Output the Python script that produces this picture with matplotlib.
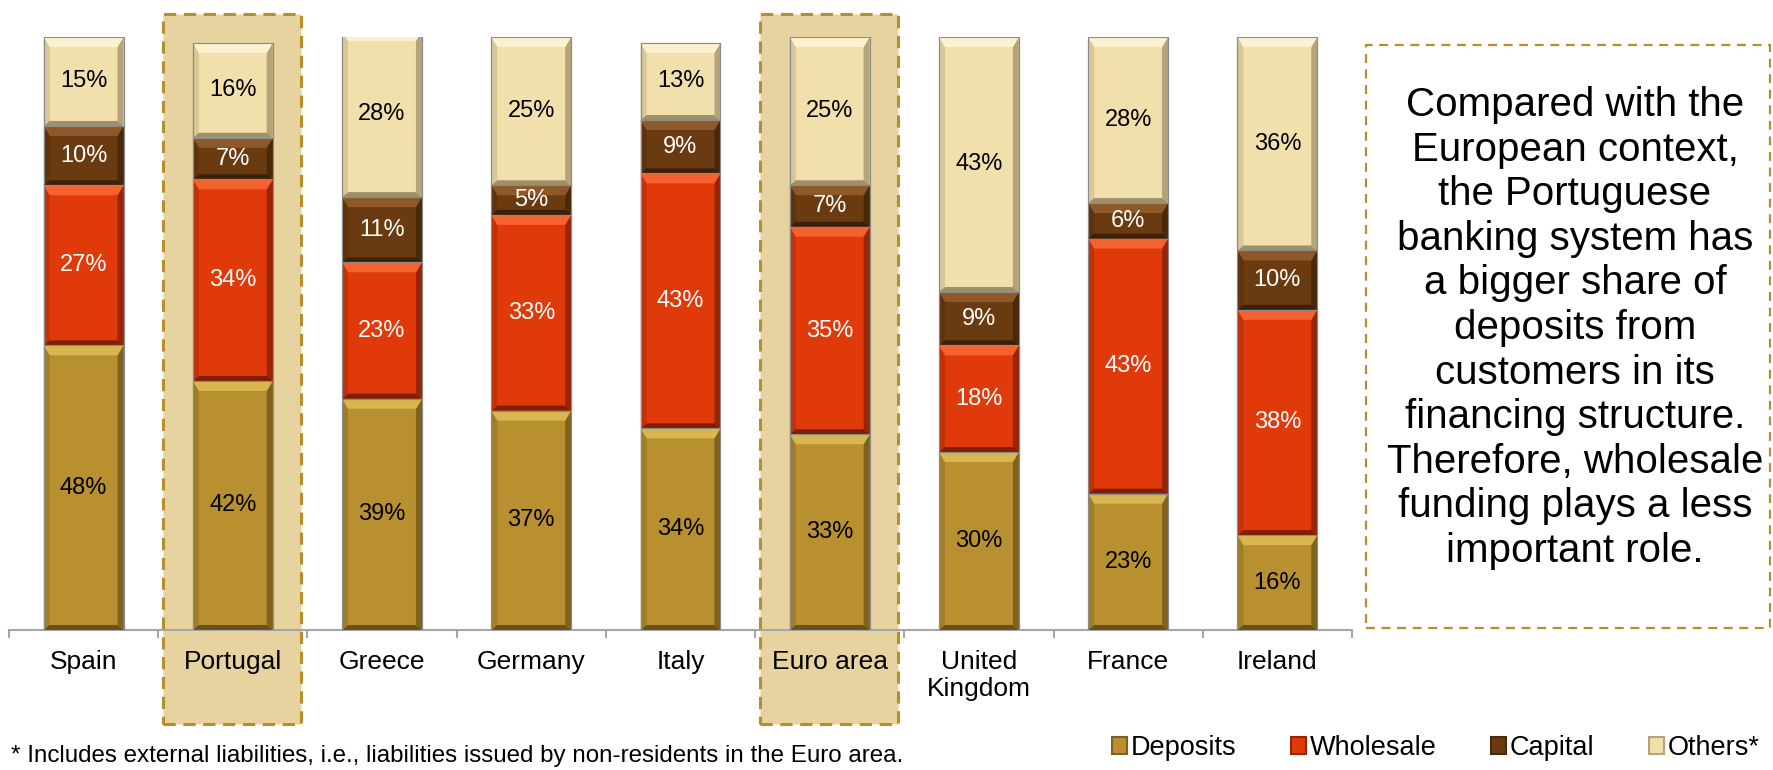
import numpy as np
import matplotlib.pyplot as plt
from matplotlib.patches import Polygon, Rectangle

plt.rcParams['font.family'] = ['Liberation Sans', 'DejaVu Sans']

countries = ['Spain', 'Portugal', 'Greece', 'Germany', 'Italy', 'Euro area',
             'United\nKingdom', 'France', 'Ireland']
deposits = [48, 42, 39, 37, 34, 33, 30, 23, 16]
wholesale = [27, 34, 23, 33, 43, 35, 18, 43, 38]
capital = [10, 7, 11, 5, 9, 7, 9, 6, 10]
others = [15, 16, 28, 25, 13, 25, 43, 28, 36]
highlighted = ['Portugal', 'Euro area']

series = [
    # name, values, face, top bevel, side bevel, bottom bevel, text colour
    ('Deposits', deposits, '#b8902f', '#d9b64f', '#7f621f', '#6a5118', 'black'),
    ('Wholesale', wholesale, '#e0390a', '#f6622f', '#962607', '#7c1f05', 'white'),
    ('Capital', capital, '#6a3a10', '#8e5828', '#4a280a', '#3c2008', 'white'),
    ('Others*', others, '#f2e0ac', '#fcf1cf', '#b3a47a', '#9e9068', 'black'),
]

fig = plt.figure(figsize=(17.74, 7.70), dpi=100)
ax = fig.add_axes([9 / 1774, 140 / 770, 1343 / 1774, 593 / 770])
ax.set_xlim(-0.5, 8.5)
ax.set_ylim(0, 100)

x = np.arange(len(countries))
width = 0.535
px_x = 1 / 149.2   # one pixel in x data units
px_y = 1 / 5.93    # one pixel in y data units

# shaded dashed boxes behind the highlighted columns
for name in highlighted:
    i = countries.index(name)
    ax.add_patch(Rectangle((i - 0.465, -15.9), 0.92, 119.8, facecolor='#e6d3a0',
                           edgecolor='#b68e2e', lw=2.2, ls=(0, (4, 2.5)),
                           clip_on=False, zorder=0))

bottom = np.zeros(len(countries))
handles = []
for name, vals, face, top_c, side_c, bot_c, txt_c in series:
    vals = np.array(vals, dtype=float)
    bars = ax.bar(x, vals, width, bottom=bottom, color=face,
                  edgecolor='#8a8a8a', lw=0.8, zorder=2)
    bx, bt, bb = 6 * px_x, 10 * px_y, 5 * px_y
    for rect, v in zip(bars, vals):
        x0, y0 = rect.get_x(), rect.get_y()
        w, h = rect.get_width(), rect.get_height()
        x1, y1 = x0 + w, y0 + h
        top = [(x0, y1), (x1, y1), (x1 - bx, y1 - bt), (x0 + bx, y1 - bt)]
        bot = [(x0, y0), (x1, y0), (x1 - bx, y0 + bb), (x0 + bx, y0 + bb)]
        left = [(x0, y0), (x0 + bx, y0 + bb), (x0 + bx, y1 - bt), (x0, y1)]
        right = [(x1, y0), (x1 - bx, y0 + bb), (x1 - bx, y1 - bt), (x1, y1)]
        for pts, c, a in [(left, side_c, 0.4), (right, side_c, 1.0),
                          (bot, bot_c, 1.0), (top, top_c, 1.0)]:
            ax.add_patch(Polygon(pts, closed=True, facecolor=c, edgecolor='none',
                                 alpha=a, zorder=3))
        ax.add_patch(Rectangle((x0, y0), w, h, facecolor='none',
                               edgecolor='#8a8a8a', lw=0.8, zorder=4))
        ax.text(x0 + w / 2, y0 + h / 2, f'{v:.0f}%', ha='center',
                va='center', fontsize=17, color=txt_c, zorder=5)
    bottom += vals
    handles.append(Rectangle((0, 0), 1, 1, facecolor=face, edgecolor=side_c, lw=1.5))

for s in ['top', 'right', 'left']:
    ax.spines[s].set_visible(False)
ax.spines['bottom'].set_color('#a6a6a6')
ax.spines['bottom'].set_linewidth(1.5)
ax.set_yticks([])
ax.set_xticks(x)
ax.set_xticklabels(countries, fontsize=19, va='top', linespacing=1.15)
ax.tick_params(axis='x', which='major', length=0, pad=14.5)
ax.set_xticks(np.arange(-0.5, 9, 1), minor=True)
ax.tick_params(axis='x', which='minor', length=6, width=1.5, color='#a6a6a6')

fig.text(11 / 1774, 1 - 756 / 770,
         '* Includes external liabilities, i.e., liabilities issued by non-residents in the Euro area.',
         fontsize=17.4, va='center', ha='left')

fig.legend(handles, [s[0] for s in series], loc='center', ncol=4,
           bbox_to_anchor=(1436 / 1774, 1 - 748 / 770), frameon=False,
           fontsize=19.5, handlelength=0.55, handleheight=0.55, handletextpad=0.15,
           columnspacing=2.0, borderpad=0, borderaxespad=0)

# commentary box on the right
fig.patches.append(Rectangle((1366 / 1774, 1 - 628 / 770), 404 / 1774, 583 / 770,
                             transform=fig.transFigure, facecolor='none',
                             edgecolor='#b68e2e', lw=1.6, ls=(0, (4, 3))))
fig.text(1575 / 1774, 1 - 328 / 770,
         'Compared with the\nEuropean context,\nthe Portuguese\nbanking system has\n'
         'a bigger share of\ndeposits from\ncustomers in its\nfinancing structure.\n'
         'Therefore, wholesale\nfunding plays a less\nimportant role.',
         ha='center', va='center', fontsize=29, linespacing=1.22)

fig.savefig('out.png', dpi=100)
